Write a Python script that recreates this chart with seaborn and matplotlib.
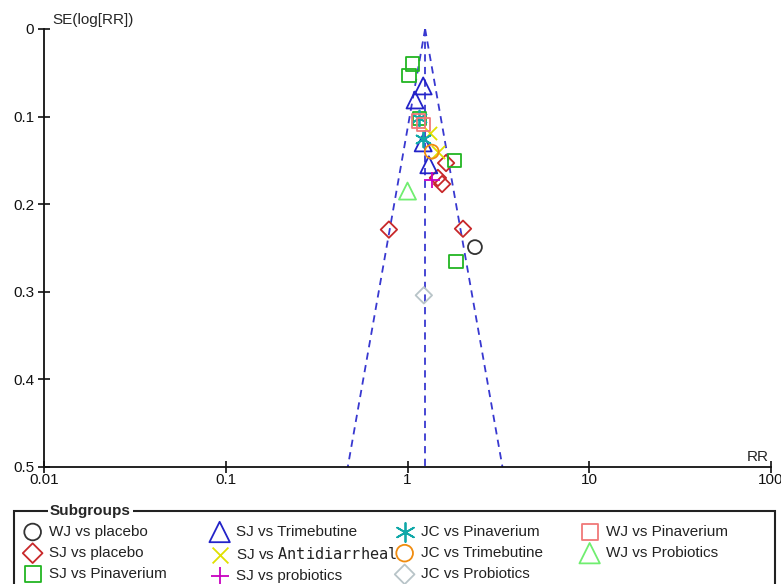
import numpy as np
import pandas as pd
import seaborn as sns
import matplotlib.pyplot as plt

# pooled estimate used for the funnel
pooled_rr = 1.25

# (RR, SE(log RR)) per subgroup
wj_placebo_rr = [2.35]
wj_placebo_se = [0.249]
sj_placebo_rr = [1.63, 1.47, 1.55, 0.79, 2.02]
sj_placebo_se = [0.153, 0.170, 0.177, 0.229, 0.228]
sj_pinaverium_rr = [1.06, 1.02, 1.16, 1.82, 1.85]
sj_pinaverium_se = [0.040, 0.053, 0.102, 0.150, 0.265]
sj_trimebutine_rr = [1.22, 1.10, 1.22, 1.31]
sj_trimebutine_se = [0.065, 0.081, 0.130, 0.155]
sj_antidiarrheal_rr = [1.33, 1.47]
sj_antidiarrheal_se = [0.119, 0.140]
sj_probiotics_rr = [1.36]
sj_probiotics_se = [0.172]
jc_pinaverium_rr = [1.16, 1.21]
jc_pinaverium_se = [0.102, 0.125]
jc_trimebutine_rr = [1.36]
jc_trimebutine_se = [0.140]
jc_probiotics_rr = [1.23]
jc_probiotics_se = [0.304]
wj_pinaverium_rr = [1.15, 1.23]
wj_pinaverium_se = [0.105, 0.109]
wj_probiotics_rr = [1.00]
wj_probiotics_se = [0.185]

# label, rr, se, marker, colour, size, hollow
groups = [
    ('WJ vs placebo', wj_placebo_rr, wj_placebo_se, 'o', '#333333', 100, True),
    ('SJ vs placebo', sj_placebo_rr, sj_placebo_se, 'D', '#C8282A', 70, True),
    ('SJ vs Pinaverium', sj_pinaverium_rr, sj_pinaverium_se, 's', '#22B522', 90, True),
    ('SJ vs Trimebutine', sj_trimebutine_rr, sj_trimebutine_se, '^', '#2323C8', 150, True),
    ('SJ vs $\\mathtt{Antidiarrheal}$', sj_antidiarrheal_rr, sj_antidiarrheal_se, 'x', '#E0E000', 90, False),
    ('SJ vs probiotics', sj_probiotics_rr, sj_probiotics_se, '+', '#C800C0', 120, False),
    ('JC vs Pinaverium', jc_pinaverium_rr, jc_pinaverium_se, (6, 2, 0), '#10A8A8', 130, False),
    ('JC vs Trimebutine', jc_trimebutine_rr, jc_trimebutine_se, 'o', '#F08C10', 100, True),
    ('JC vs Probiotics', jc_probiotics_rr, jc_probiotics_se, 'D', '#B8C4C8', 70, True),
    ('WJ vs Pinaverium', wj_pinaverium_rr, wj_pinaverium_se, 's', '#F07878', 90, True),
    ('WJ vs Probiotics', wj_probiotics_rr, wj_probiotics_se, '^', '#70EE70', 150, True),
]

sns.set_style('white')
plt.rcParams['font.family'] = ['Liberation Sans', 'DejaVu Sans']
plt.rcParams['mathtext.fontset'] = 'dejavusans'

fig = plt.figure(figsize=(7.81, 5.84), dpi=100)
ax = fig.add_axes([44 / 781, 1 - 467 / 584, 727 / 781, 438 / 584])

# funnel lines
se_line = np.array([0, 0.5])
line_kw = dict(ls='--', color='#3838D0', lw=1.3, dashes=(4, 3))
ax.plot(np.exp(np.log(pooled_rr) - 1.96 * se_line), se_line, **line_kw)
ax.plot(np.exp(np.log(pooled_rr) + 1.96 * se_line), se_line, **line_kw)
ax.plot([pooled_rr, pooled_rr], se_line, **line_kw)

for name, rr, se, mk, col, size, hollow in groups:
    df = pd.DataFrame({'RR': rr, 'SE': se})
    if hollow:
        sns.scatterplot(data=df, x='RR', y='SE', ax=ax, marker=mk, s=size,
                        facecolor='none', edgecolor=col, linewidth=1.3, label=name, zorder=3)
    else:
        sns.scatterplot(data=df, x='RR', y='SE', ax=ax, marker=mk, s=size,
                        color=col, linewidth=1.3, label=name, zorder=3)

ax.set_xscale('log')
ax.set_xlim(0.01, 100)
ax.set_ylim(0.5, 0)
ax.set_xticks([0.01, 0.1, 1, 10, 100])
ax.set_xticklabels(['0.01', '0.1', '1', '10', '100'])
ax.minorticks_off()
ax.set_yticks([0, 0.1, 0.2, 0.3, 0.4, 0.5])
ax.set_yticklabels(['0', '0.1', '0.2', '0.3', '0.4', '0.5'])
ax.tick_params(bottom=True, left=True, direction='inout', length=8, width=1.2,
               labelsize=11, colors='#111111')
ax.tick_params(axis='x', pad=0)
ax.tick_params(axis='y', pad=3)
for s in ['top', 'right']:
    ax.spines[s].set_visible(False)
for s in ['left', 'bottom']:
    ax.spines[s].set_linewidth(1.3)
    ax.spines[s].set_color('#111111')
ax.set_xlabel('')
ax.set_ylabel('')
ax.text(0.011, 1.005, 'SE(log[RR])', transform=ax.transAxes, ha='left', va='bottom', fontsize=11)
ax.text(0.997, 0.006, 'RR', transform=ax.transAxes, ha='right', va='bottom', fontsize=11)

handles, labels = ax.get_legend_handles_labels()
ax.get_legend().remove()

# legend: four columns placed like the reference, inside one box
col_x = [25, 212, 397, 582]
col_items = [(0, 3), (3, 6), (6, 9), (9, 11)]
for x0, (a, b) in zip(col_x, col_items):
    leg = fig.legend(handles[a:b], labels[a:b], loc='upper left',
                     bbox_to_anchor=(x0 / 781, 1 - 525 / 584), frameon=False,
                     fontsize=11, handlelength=1.0, handletextpad=0.6,
                     labelspacing=0.47, borderpad=0, borderaxespad=0, markerscale=1.2)
    for t in leg.get_texts():
        t.set_color('#222222')

fig.add_artist(plt.Rectangle((14 / 781, -0.05), 761 / 781, (584 - 511) / 584 + 0.05,
                             transform=fig.transFigure, fill=False, ec='#222222', lw=1.5))
fig.text(50 / 781, 1 - 511 / 584, 'Subgroups', fontsize=11, fontweight='bold', ha='left', va='center',
         bbox=dict(facecolor='white', edgecolor='none', pad=1.5), zorder=10)

fig.savefig('out.png', dpi=100)
